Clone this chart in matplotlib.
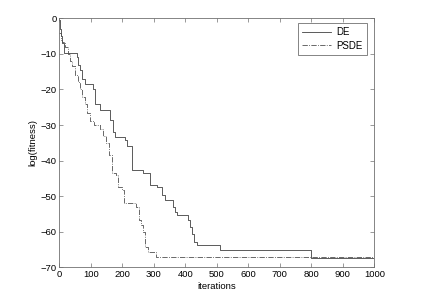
import matplotlib
matplotlib.use('Agg')
import matplotlib.pyplot as plt

# DE convergence (step curve)
de_iter = [0, 3, 6, 10, 16, 55, 60, 66, 72, 82, 107, 112, 130, 161, 171, 177, 208, 215, 230,
           266, 288, 309, 326, 336, 361, 367, 373, 408, 415, 420, 428, 436, 510, 800, 1000]
de_val = [-0.5, -3, -5, -7, -9.8, -11, -13, -14.5, -17, -18.5, -19.8, -24, -25.8, -28.6, -31.9,
          -33.3, -34.2, -36, -42.6, -43.5, -46.9, -47.5, -49.7, -51, -53, -54.5, -55.3, -56.7,
          -58.6, -60.5, -62.8, -63.7, -65, -67.3, -67.3]

# PSDE convergence
psde_iter = [0, 5, 10, 18, 29, 34, 40, 50, 60, 66, 72, 82, 88, 97, 110, 130, 140, 148, 157,
             166, 180, 187, 198, 205, 245, 252, 258, 265, 272, 280, 307, 1000]
psde_val = [-4, -6, -6.6, -8, -10, -12, -13.5, -16, -18, -20, -22, -24, -26.6, -29, -30, -31,
            -33, -35, -38.5, -43.5, -44, -47.3, -48.2, -52, -53, -56.7, -58, -60, -64.2, -65.8,
            -67.2, -67.2]

plt.rcParams['font.family'] = ['Liberation Sans', 'DejaVu Sans']
plt.rcParams['font.size'] = 6.8

fig = plt.figure(figsize=(4.28, 2.98), dpi=100)
ax = fig.add_axes([0.1386, 0.103, 0.736, 0.8356])

ax.plot(de_iter, de_val, drawstyle='steps-post', color='#404040', lw=0.6, label='DE')
ax.plot(psde_iter, psde_val, drawstyle='steps-post', color='#505050', lw=0.6,
        linestyle='-.', label='PSDE')

ax.set_xlim(0, 1000)
ax.set_ylim(-70, 0)
ax.set_xticks(range(0, 1001, 100))
ax.set_yticks(range(-70, 1, 10))
ax.set_xlabel('iterations', labelpad=2)
ax.set_ylabel('log(fitness)', labelpad=2)

for s in ax.spines.values():
    s.set_color('#707070')
    s.set_linewidth(0.6)
ax.tick_params(direction='in', top=True, right=True, length=3, width=0.5,
               color='#707070', pad=2)

leg = ax.legend(loc='upper right', fancybox=False, framealpha=1, edgecolor='#707070',
                handlelength=3.0, borderpad=0.45, labelspacing=0.35, fontsize=7,
                handletextpad=0.5, borderaxespad=0, bbox_to_anchor=(0.977, 0.981))
leg.get_frame().set_linewidth(0.6)

fig.savefig('out.png', dpi=100)
